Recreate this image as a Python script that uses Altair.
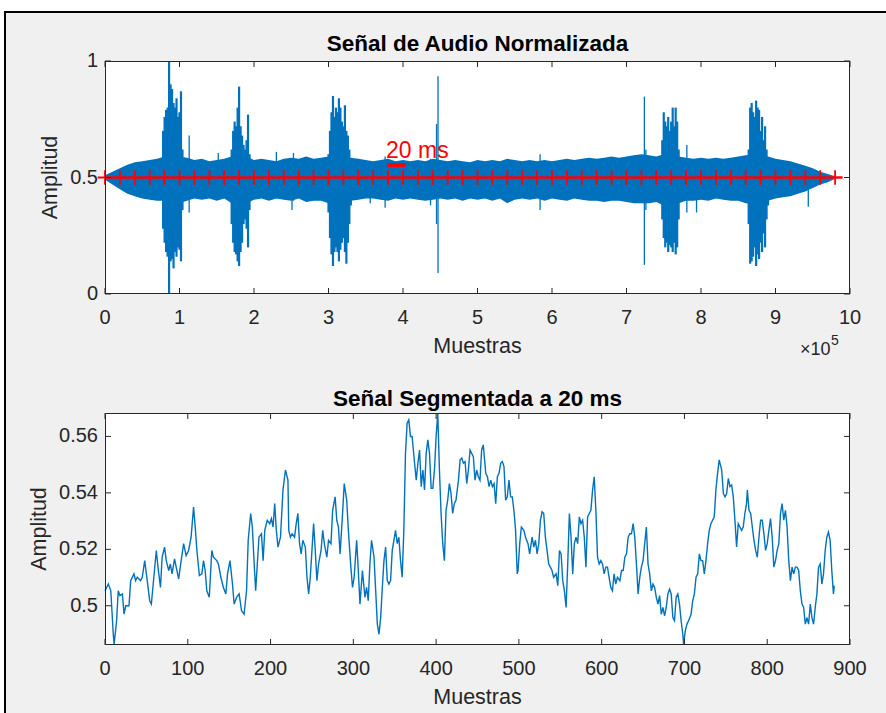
import altair as alt
import pandas as pd

# ---------------- data ----------------
# top panel: envelope of the normalized audio (min / max per 10 000-sample bin)
env_step = 10000
env_hi = [0.51, 0.525, 0.54, 0.555, 0.565, 0.57, 0.575, 0.58, 0.59, 0.60,
          0.59, 0.585, 0.575, 0.58, 0.57, 0.575, 0.58, 0.59, 0.60, 0.59,
          0.575, 0.58, 0.575, 0.57, 0.58, 0.585, 0.58, 0.59, 0.58, 0.585,
          0.59, 0.60, 0.595, 0.585, 0.58, 0.575, 0.57, 0.575, 0.58, 0.57,
          0.575, 0.57, 0.575, 0.57, 0.58, 0.575, 0.57, 0.575, 0.57, 0.565,
          0.575, 0.57, 0.575, 0.57, 0.58, 0.575, 0.57, 0.575, 0.57, 0.575,
          0.57, 0.575, 0.58, 0.575, 0.58, 0.585, 0.58, 0.585, 0.59, 0.585,
          0.59, 0.595, 0.60, 0.595, 0.59, 0.60, 0.60, 0.59, 0.585, 0.58,
          0.585, 0.58, 0.585, 0.58, 0.585, 0.59, 0.595, 0.60, 0.595, 0.59,
          0.58, 0.575, 0.57, 0.56, 0.55, 0.54, 0.525, 0.515, 0.505]
env_lo = [0.49, 0.47, 0.45, 0.43, 0.42, 0.41, 0.405, 0.40, 0.40, 0.39,
          0.39, 0.40, 0.41, 0.405, 0.41, 0.40, 0.41, 0.39, 0.385, 0.39,
          0.405, 0.41, 0.40, 0.41, 0.405, 0.40, 0.41, 0.395, 0.40, 0.40,
          0.39, 0.385, 0.39, 0.40, 0.405, 0.41, 0.41, 0.405, 0.40, 0.41,
          0.405, 0.41, 0.405, 0.40, 0.405, 0.41, 0.405, 0.41, 0.40, 0.41,
          0.405, 0.41, 0.40, 0.41, 0.39, 0.405, 0.41, 0.405, 0.41, 0.40,
          0.41, 0.405, 0.40, 0.41, 0.405, 0.40, 0.40, 0.395, 0.40, 0.40,
          0.395, 0.39, 0.39, 0.39, 0.395, 0.38, 0.38, 0.39, 0.40, 0.40,
          0.405, 0.40, 0.41, 0.405, 0.40, 0.40, 0.39, 0.385, 0.39, 0.40,
          0.41, 0.415, 0.42, 0.43, 0.44, 0.455, 0.47, 0.48, 0.495]

# speech bursts (max / min every 2000 samples)
burst_step = 2000
burst_start = [78000, 170000, 300000, 748000, 864000]
burst_hi = [
    [0.70, 0.76, 0.79, 0.80, 1.00, 0.90, 0.88, 0.82, 0.80, 0.84, 0.76, 0.78, 0.87, 0.62],
    [0.62, 0.70, 0.74, 0.72, 0.80, 0.89, 0.72, 0.68, 0.64, 0.62, 0.66, 0.77, 0.60],
    [0.60, 0.70, 0.78, 0.85, 0.76, 0.80, 0.78, 0.84, 0.80, 0.74, 0.72, 0.81, 0.70, 0.68, 0.62, 0.58],
    [0.66, 0.78, 0.74, 0.72, 0.76, 0.70, 0.74, 0.80, 0.72, 0.80, 0.74, 0.62],
    [0.62, 0.80, 0.82, 0.78, 0.76, 0.83, 0.80, 0.79, 0.70, 0.76, 0.66, 0.72, 0.62, 0.58],
]
burst_lo = [
    [0.28, 0.22, 0.18, 0.16, 0.00, 0.14, 0.15, 0.11, 0.18, 0.16, 0.20, 0.19, 0.14, 0.36],
    [0.30, 0.22, 0.18, 0.17, 0.14, 0.12, 0.18, 0.22, 0.30, 0.32, 0.28, 0.20, 0.36],
    [0.35, 0.24, 0.17, 0.12, 0.18, 0.20, 0.18, 0.14, 0.19, 0.22, 0.24, 0.18, 0.13, 0.22, 0.30, 0.38],
    [0.32, 0.24, 0.20, 0.22, 0.18, 0.21, 0.20, 0.18, 0.22, 0.17, 0.20, 0.32],
    [0.30, 0.13, 0.14, 0.16, 0.20, 0.12, 0.17, 0.15, 0.22, 0.18, 0.26, 0.20, 0.32, 0.38],
]

# isolated spikes
spike_x = [113000, 152000, 230000, 251000, 253000, 356000, 376000, 437000, 445000,
           447000, 584000, 724000, 726000, 781000, 794000, 944000]
spike_hi = [0.68, 0.605, 0.61, 0.58, 0.605, 0.57, 0.59, 0.58, 0.73,
            0.935, 0.60, 0.847, 0.62, 0.64, 0.58, 0.52]
spike_lo = [0.35, 0.42, 0.41, 0.36, 0.40, 0.39, 0.37, 0.38, 0.30,
            0.09, 0.36, 0.125, 0.36, 0.35, 0.35, 0.375]

# red reference line with '+' markers every 20 000 samples
marker_step = 20000
marker_count = 50
ref_level = 0.5
ref_end = 990000

label_20ms = "20 ms"
label_20ms_x = 377200
label_20ms_y = 0.5837
bar_x0, bar_x1, bar_y = 379000, 403000, 0.5536

# bottom panel: one 20 ms segment (882 samples)
seg_n = [0, 4, 7, 10, 11, 14, 16, 18, 21, 23, 25, 29, 31, 35, 37, 39, 43, 45, 48, 51,
         54, 56, 59, 62, 64, 67, 69, 72, 74, 77, 79, 81, 84, 86, 89, 92, 95, 98, 101, 104,
         107, 109, 111, 114, 117, 119, 121, 123, 126, 129, 131, 135, 137, 140, 143, 146, 148, 151, 154, 156,
         159, 162, 165, 168, 171, 173, 176, 178, 180, 182, 184, 186, 189, 191, 193, 196, 199, 201, 203, 205,
         207, 209, 212, 215, 218, 221,
         222, 224, 226, 229, 231, 233, 235, 237, 239, 242, 244, 246, 248, 250, 252, 254, 256, 258, 261, 263,
         265, 268, 270, 273, 275, 278, 280, 282, 284, 287, 289, 292, 294, 297, 299, 301, 304, 306, 308, 311,
         314, 316, 318, 320, 322, 325, 327, 329, 331, 333, 335, 337, 339, 341, 343, 345, 347, 349, 351, 353,
         355, 357, 359, 361, 363, 365, 367, 369, 371, 374, 376, 378, 380, 382, 384, 386, 388, 390, 392, 394,
         396, 398, 400, 402, 404, 406, 408, 410, 412, 414, 416, 418, 420, 422, 424, 427, 429, 431, 433, 435,
         437, 439, 441, 443, 445, 447, 449,
         451, 453, 455, 457, 460, 462, 464, 466, 468, 470, 472, 474, 476, 478, 480, 482, 484, 486, 488, 490,
         492, 494, 496, 498, 499, 501, 503, 506, 508, 511, 513, 516, 518, 520, 522, 524, 526, 528, 530, 532,
         534, 536, 538, 540, 542, 545, 547, 549, 551, 553, 555, 557, 559, 561, 563, 565, 567, 569, 571, 573,
         575, 577, 579, 581, 583, 585, 587, 589, 591, 593, 595, 597, 599, 601, 603, 605, 607, 609, 611, 613,
         615, 617, 619, 622, 624, 626, 628, 630, 632, 634, 636, 638, 640, 642, 644, 646, 648, 650, 652, 654,
         656, 658, 660, 662, 664,
         666, 668, 670, 672, 674, 676, 678, 680, 682, 684, 686, 688, 690, 692, 694, 696, 698, 699, 701, 703,
         705, 708, 710, 712, 714, 716, 718, 720, 722, 724, 726, 728, 730, 732, 734, 736, 738, 740, 742, 745,
         747, 749, 751, 753, 755, 757, 759, 761, 763, 765, 767, 769, 771, 773, 775, 776, 778, 780, 782, 784,
         786, 788, 790, 792, 794, 796, 798, 800, 802, 804, 806, 808, 810, 812, 814, 816, 818, 820, 822, 824,
         826, 828, 830, 832, 834, 836, 838, 840, 842, 844, 846, 848, 850, 852, 854, 856, 858, 860, 862, 864,
         866, 868, 870, 872, 874, 876, 878, 880, 881]
seg_v = [0.5053, 0.5077, 0.5053, 0.4899, 0.4863, 0.4947, 0.5053, 0.5036, 0.5042, 0.4970,
         0.5000, 0.5000, 0.5089, 0.5113, 0.5089, 0.5101, 0.5089, 0.5101, 0.5160, 0.5089,
         0.5018, 0.5006, 0.5101, 0.5196, 0.5137, 0.5065, 0.5172, 0.5208, 0.5160, 0.5125,
         0.5148, 0.5113, 0.5166, 0.5137, 0.5095, 0.5160, 0.5220, 0.5178, 0.5196, 0.5243,
         0.5350, 0.5279, 0.5196, 0.5107, 0.5113, 0.5160, 0.5125, 0.5053, 0.5030, 0.5196,
         0.5172, 0.5160, 0.5148, 0.5101, 0.5065, 0.5042, 0.5113, 0.5160, 0.5077, 0.5006,
         0.5030, 0.5042, 0.4982, 0.4970, 0.5053, 0.5232, 0.5327, 0.5279, 0.5160, 0.5053,
         0.5148, 0.5243, 0.5255, 0.5160, 0.5267, 0.5303, 0.5291, 0.5309, 0.5279, 0.5362,
         0.5267, 0.5208, 0.5243, 0.5410, 0.5481, 0.5445,
         0.5267, 0.5243, 0.5255, 0.5243, 0.5291, 0.5327, 0.5220, 0.5184, 0.5232, 0.5208,
         0.5101, 0.5042, 0.5101, 0.5196, 0.5291, 0.5196, 0.5089, 0.5148, 0.5196, 0.5267,
         0.5220, 0.5172, 0.5232, 0.5220, 0.5338, 0.5386, 0.5303, 0.5279, 0.5184, 0.5327,
         0.5433, 0.5374, 0.5267, 0.5137, 0.5065, 0.5101, 0.5232, 0.5125, 0.5006, 0.5125,
         0.5030, 0.5065, 0.5018, 0.5148, 0.5232, 0.5172, 0.5053, 0.4935, 0.4899, 0.4958,
         0.5065, 0.5160, 0.5208, 0.5089, 0.5077, 0.5089, 0.5196, 0.5232, 0.5267, 0.5220,
         0.5243, 0.5160, 0.5101, 0.5267, 0.5540, 0.5647, 0.5659, 0.5600, 0.5600, 0.5505,
         0.5445, 0.5505, 0.5552, 0.5422, 0.5481, 0.5410, 0.5540, 0.5588, 0.5540, 0.5416,
         0.5416, 0.5481, 0.5600, 0.5683, 0.5481, 0.5327, 0.5220, 0.5160, 0.5338, 0.5374,
         0.5433, 0.5398, 0.5327, 0.5362, 0.5374, 0.5445, 0.5517, 0.5523, 0.5505, 0.5511,
         0.5433, 0.5481, 0.5552, 0.5540, 0.5528, 0.5445, 0.5481,
         0.5457, 0.5445, 0.5552, 0.5570, 0.5469, 0.5457, 0.5422, 0.5445, 0.5422, 0.5433,
         0.5362, 0.5457, 0.5469, 0.5505, 0.5511, 0.5493, 0.5374, 0.5386, 0.5445, 0.5386,
         0.5386, 0.5338, 0.5267, 0.5113, 0.5125, 0.5220, 0.5279, 0.5267, 0.5243, 0.5220,
         0.5184, 0.5243, 0.5208, 0.5232, 0.5184, 0.5220, 0.5303, 0.5333, 0.5327, 0.5243,
         0.5196, 0.5148, 0.5137, 0.5125, 0.5101, 0.5113, 0.5071, 0.5196, 0.5184, 0.5089,
         0.5053, 0.4994, 0.5148, 0.5327, 0.5243, 0.5113, 0.5220, 0.5243, 0.5220, 0.5315,
         0.5291, 0.5303, 0.5243, 0.5137, 0.5315, 0.5327, 0.5338, 0.5410, 0.5457, 0.5338,
         0.5172, 0.5148, 0.5160, 0.5148, 0.5113, 0.5137, 0.5137, 0.5101, 0.5065, 0.5053,
         0.5113, 0.5077, 0.5101, 0.5089, 0.5125, 0.5125, 0.5172, 0.5184, 0.5243, 0.5255,
         0.5255, 0.5291, 0.5243, 0.5148, 0.5042, 0.5101, 0.5137, 0.5160, 0.5220, 0.5279,
         0.5148, 0.5113, 0.5053, 0.5077, 0.5065,
         0.5030, 0.5006, 0.5036, 0.4970, 0.4994, 0.4964, 0.4994, 0.5042, 0.5059, 0.5042,
         0.4958, 0.4947, 0.5030, 0.5042, 0.5006, 0.4947, 0.4899, 0.4863, 0.4911, 0.4935,
         0.4947, 0.4970, 0.5018, 0.5042, 0.5101, 0.5113, 0.5184, 0.5160, 0.5160, 0.5113,
         0.5160, 0.5220, 0.5267, 0.5291, 0.5303, 0.5315, 0.5410, 0.5469, 0.5517, 0.5481,
         0.5398, 0.5386, 0.5398, 0.5451, 0.5422, 0.5428, 0.5386, 0.5303, 0.5208, 0.5291,
         0.5279, 0.5267, 0.5279, 0.5327, 0.5362, 0.5410, 0.5338, 0.5327, 0.5279, 0.5232,
         0.5196, 0.5172, 0.5243, 0.5303, 0.5303, 0.5255, 0.5196, 0.5220, 0.5267, 0.5309,
         0.5243, 0.5137, 0.5160, 0.5196, 0.5220, 0.5327, 0.5362, 0.5303, 0.5338, 0.5279,
         0.5160, 0.5089, 0.5137, 0.5113, 0.5137, 0.5137, 0.5125, 0.5053, 0.5006, 0.4994,
         0.4935, 0.4958, 0.4935, 0.5006, 0.4958, 0.4935, 0.4994, 0.5042, 0.5137, 0.5148,
         0.5077, 0.5113, 0.5196, 0.5243, 0.5261, 0.5232, 0.5125, 0.5042, 0.5071]

# ticks and tick labels
top_x_ticks = [0, 100000, 200000, 300000, 400000, 500000, 600000, 700000, 800000, 900000, 1000000]
top_x_labels = ["0", "1", "2", "3", "4", "5", "6", "7", "8", "9", "10"]
top_y_ticks = [0, 0.5, 1]
top_y_labels = ["0", "0.5", "1"]
bot_x_ticks = [0, 100, 200, 300, 400, 500, 600, 700, 800, 900]
bot_x_labels = ["0", "100", "200", "300", "400", "500", "600", "700", "800", "900"]
bot_y_ticks = [0.5, 0.52, 0.54, 0.56]
bot_y_labels = ["0.5", "0.52", "0.54", "0.56"]

title_top = "Señal de Audio Normalizada"
title_bot = "Señal Segmentada a 20 ms"
x_title = "Muestras"
y_title = "Amplitud"
exp_base, exp_power = "×10", "5"

# ---------------- style ----------------
BLUE = "#0072BD"
RED = "#FF0000"
AX = "#262626"
FIG = "#F0F0F0"
FONT = "Liberation Sans"
W, H1, H2 = 745, 233, 232
TICK = 6
LBL = 20
TTL = 21.5

# ---------------- tables ----------------
env_df = pd.DataFrame({"x": [i * env_step for i in range(len(env_hi))], "hi": env_hi, "lo": env_lo})
bx, bh, bl = [], [], []
for s, hs, ls in zip(burst_start, burst_hi, burst_lo):
    for i, (h, l) in enumerate(zip(hs, ls)):
        bx.append(s + i * burst_step); bh.append(h); bl.append(l)
burst_df = pd.DataFrame({"x": bx, "hi": bh, "lo": bl})
spike_df = pd.DataFrame({"x": spike_x, "hi": spike_hi, "lo": spike_lo})
ref_df = pd.DataFrame({"x": [0], "x2": [ref_end], "y": [ref_level]})
mark_df = pd.DataFrame({"x": [i * marker_step for i in range(marker_count)], "y": [ref_level] * marker_count})
bar_df = pd.DataFrame({"x": [bar_x0], "x2": [bar_x1], "y": [bar_y]})
lab_df = pd.DataFrame({"x": [label_20ms_x], "y": [label_20ms_y], "t": [label_20ms]})
seg_df = pd.DataFrame({"n": seg_n, "v": seg_v})
one = pd.DataFrame({"a": [0]})

xs_top = alt.Scale(domain=[0, 1000000], nice=False, zero=False)
ys_top = alt.Scale(domain=[0, 1], nice=False, zero=False)
xs_bot = alt.Scale(domain=[0, 900], nice=False, zero=False)
ys_bot = alt.Scale(domain=[min(seg_v) - 0.0002, max(seg_v)], nice=False, zero=False)


def X(field, scale):
    return alt.X(field, scale=scale, axis=None)


def Y(field, scale):
    return alt.Y(field, scale=scale, axis=None)


def rect(x, x2, y, y2, color):
    return alt.Chart(one).mark_rect(color=color).encode(
        x=alt.value(x), x2=alt.value(x2), y=alt.value(y), y2=alt.value(y2))


def box(h):
    return alt.Chart(one).mark_rect(filled=False, color=AX, strokeWidth=1).encode(
        x=alt.value(0.5), x2=alt.value(W - 0.5), y=alt.value(0.5), y2=alt.value(h - 0.5))


def text_at(text, x, y, size, color=AX, weight="normal", align="center", baseline="middle", angle=0):
    kw = dict(text=text, color=color, fontSize=size, font=FONT, fontWeight=weight,
              align=align, baseline=baseline)
    if angle:
        kw["angle"] = angle
    return alt.Chart(one).mark_text(**kw).encode(x=alt.value(x), y=alt.value(y))


def axes_layers(xt, xl, yt, yl, xs, ys, h, ytitle_x):
    xdf = pd.DataFrame({"t": xt, "lab": xl})
    ydf = pd.DataFrame({"t": yt, "lab": yl})
    base_x = alt.Chart(xdf).mark_rule(color=AX, strokeWidth=1)
    base_y = alt.Chart(ydf).mark_rule(color=AX, strokeWidth=1)
    return [
        base_x.encode(x=X("t:Q", xs), y=alt.value(h), y2=alt.value(h - TICK)),
        base_x.encode(x=X("t:Q", xs), y=alt.value(0), y2=alt.value(TICK)),
        base_y.encode(y=Y("t:Q", ys), x=alt.value(0), x2=alt.value(TICK)),
        base_y.encode(y=Y("t:Q", ys), x=alt.value(W), x2=alt.value(W - TICK)),
        alt.Chart(xdf).mark_text(color=AX, fontSize=LBL, font=FONT, align="center", baseline="middle")
        .encode(x=X("t:Q", xs), y=alt.value(h + 24), text="lab:N"),
        alt.Chart(ydf).mark_text(color=AX, fontSize=LBL, font=FONT, align="right", baseline="middle")
        .encode(y=Y("t:Q", ys), x=alt.value(-7), text="lab:N"),
        text_at(x_title, W / 2, h + 53, TTL),
        text_at(y_title, ytitle_x, h / 2, TTL, angle=270),
        box(h),
    ]


# ---------------- top panel ----------------
# window frame (white outside, black edge) around the grey figure
frame = [
    rect(-105, 781, -61, -50, "#FFFFFF"),
    rect(-105, -101, -61, 652, "#FFFFFF"),
    rect(-101, 781, -50, -48, "#000000"),
    rect(-101, -99, -50, 652, "#000000"),
]
white_top = rect(0, W, 0, H1, "#FFFFFF")

band = alt.Chart(env_df).mark_area(color=BLUE, opacity=1).encode(
    x=X("x:Q", xs_top), y=Y("hi:Q", ys_top), y2="lo:Q")
bursts = alt.Chart(burst_df).mark_rule(color=BLUE, strokeWidth=2.2).encode(
    x=X("x:Q", xs_top), y=Y("hi:Q", ys_top), y2="lo:Q")
spikes = alt.Chart(spike_df).mark_rule(color=BLUE, strokeWidth=1.3).encode(
    x=X("x:Q", xs_top), y=Y("hi:Q", ys_top), y2="lo:Q")
ref_line = alt.Chart(ref_df).mark_rule(color=RED, strokeWidth=1.8).encode(
    x=X("x:Q", xs_top), x2="x2:Q", y=Y("y:Q", ys_top))
markers = alt.Chart(mark_df).mark_point(shape="M-1,0L1,0M0,-1L0,1", size=210, filled=False,
                                        color=RED, strokeWidth=1.8, opacity=1).encode(
    x=X("x:Q", xs_top), y=Y("y:Q", ys_top))
bar = alt.Chart(bar_df).mark_rule(color=RED, strokeWidth=4).encode(
    x=X("x:Q", xs_top), x2="x2:Q", y=Y("y:Q", ys_top))
lab = alt.Chart(lab_df).mark_text(color=RED, fontSize=23, font=FONT, align="left",
                                  baseline="alphabetic").encode(
    x=X("x:Q", xs_top), y=Y("y:Q", ys_top), text="t:N")

top = alt.layer(
    *frame, white_top, band, bursts, spikes, ref_line, markers, bar, lab,
    *axes_layers(top_x_ticks, top_x_labels, top_y_ticks, top_y_labels, xs_top, ys_top, H1, -54),
    text_at(exp_base, 695, 294, 18, align="left", baseline="alphabetic"),
    text_at(exp_power, 726, 284, 14, align="left", baseline="alphabetic"),
    text_at(title_top, W / 2, -10, 22.5, color="#000000", weight="bold", baseline="alphabetic"),
).properties(width=W, height=H1)

# ---------------- bottom panel ----------------
white_bot = rect(0, W, 0, H2, "#FFFFFF")
seg_line = alt.Chart(seg_df).mark_line(color=BLUE, strokeWidth=1.4).encode(
    x=X("n:Q", xs_bot), y=Y("v:Q", ys_bot))

bottom = alt.layer(
    white_bot, seg_line,
    *axes_layers(bot_x_ticks, bot_x_labels, bot_y_ticks, bot_y_labels, xs_bot, ys_bot, H2, -65),
    text_at(title_bot, W / 2, -7, 22.5, color="#000000", weight="bold", baseline="alphabetic"),
).properties(width=W, height=H2)

chart = alt.vconcat(top, bottom, spacing=119, bounds="flush").properties(
    padding={"left": 0, "top": 0, "right": 0, "bottom": 0},
    background=FIG,
).configure_view(strokeWidth=0)

chart.save("out.html", embed_options={"renderer": "svg", "actions": False})
